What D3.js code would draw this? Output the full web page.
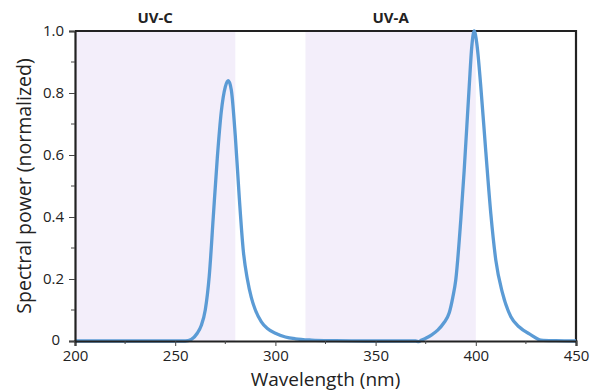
<!DOCTYPE html>
<html>
<head>
<meta charset="utf-8">
<script src="https://cdn.jsdelivr.net/npm/d3@7"></script>
<style>
  html, body { margin: 0; padding: 0; background: #fff; }
  svg { display: block; }
  text { font-family: "Open Sans", "Noto Sans", sans-serif; fill: #222; }
</style>
</head>
<body>
<svg id="chart" width="600" height="391"></svg>
<script>
// ---- data ----
const wavelengths = [200, 230, 255, 258, 261, 263, 265, 267, 269, 271, 273, 275, 276.5, 278, 280, 282, 284, 286, 288, 290, 293, 296, 300, 305, 310, 318, 330, 345, 360, 370, 371.5, 373, 375, 378, 381, 384, 386.7, 388.5, 390, 392.5, 394.2, 396.7, 398, 399.2, 400.5, 402.5, 405, 407.5, 410, 413.3, 417.5, 421.7, 427.5, 432.5, 440, 450];
const power = [0, 0, 0, 0.005, 0.025, 0.05, 0.10, 0.21, 0.40, 0.59, 0.74, 0.82, 0.84, 0.81, 0.66, 0.46, 0.29, 0.20, 0.14, 0.10, 0.062, 0.040, 0.025, 0.013, 0.007, 0.003, 0.001, 0, 0, 0, -0.002, 0.003, 0.009, 0.02, 0.035, 0.058, 0.09, 0.14, 0.197, 0.39, 0.55, 0.82, 0.95, 1.0, 0.96, 0.82, 0.61, 0.41, 0.26, 0.155, 0.078, 0.045, 0.02, 0.003, 0.001, 0];
const bands = [
  { name: "UV-C", from: 200, to: 280 },
  { name: "UV-A", from: 315, to: 400 }
];
const xTicks = [200, 250, 300, 350, 400, 450];
const xMinorTicks = [225, 275, 325, 375, 425];
const yTicks = [0, 0.2, 0.4, 0.6, 0.8, 1.0];
const yTickLabels = ["0", "0.2", "0.4", "0.6", "0.8", "1.0"];
const yMinorTicks = [0.1, 0.3, 0.5, 0.7, 0.9];

// ---- layout ----
const margin = { left: 75, right: 24, top: 31, bottom: 50 };
const W = 600, H = 391;
const svg = d3.select("#chart");
const x = d3.scaleLinear().domain([200, 450]).range([margin.left, W - margin.right]);
const y = d3.scaleLinear().domain([0, 1]).range([H - margin.bottom, margin.top]);

// bands
svg.append("g").selectAll("rect").data(bands).join("rect")
  .attr("x", d => x(d.from)).attr("width", d => x(d.to) - x(d.from))
  .attr("y", y(1)).attr("height", y(0) - y(1))
  .attr("fill", "#f3eefa");

svg.append("g").selectAll("text").data(bands).join("text")
  .attr("x", d => x((d.from + d.to) / 2)).attr("y", 23)
  .attr("text-anchor", "middle")
  .style("font-size", "15px").style("font-weight", "bold")
  .text(d => d.name);

// frame top/right
svg.append("path")
  .attr("d", `M${x(200)},${y(1)}H${x(450)}V${y(0)}`)
  .attr("fill", "none").attr("stroke", "#222").attr("stroke-width", 2.2);

// line
const line = d3.line().x((d, i) => x(wavelengths[i])).y(d => y(d)).curve(d3.curveMonotoneX);
svg.append("path").datum(power)
  .attr("d", line)
  .attr("fill", "none").attr("stroke", "#5b9bd5").attr("stroke-width", 3.3)
  .attr("stroke-linejoin", "round");

// axes
const xAxis = d3.axisBottom(x).tickValues(xTicks).tickSize(5).tickPadding(4).tickFormat(d3.format("d"));
const gx = svg.append("g").attr("transform", `translate(0,${y(0)})`).call(xAxis);
gx.select(".domain").attr("stroke", "#222").attr("stroke-width", 2.2);
gx.selectAll(".tick line").attr("stroke", "#444").attr("stroke-width", 1);
gx.selectAll("text").style("font-size", "15px").style("font-family", '"Open Sans", sans-serif');
gx.selectAll(".minor").data(xMinorTicks).join("line")
  .attr("class", "minor").attr("x1", d => x(d)).attr("x2", d => x(d))
  .attr("y1", 0).attr("y2", 3).attr("stroke", "#444");

const yAxis = d3.axisLeft(y).tickValues(yTicks).tickSize(6).tickPadding(5)
  .tickFormat((d, i) => yTickLabels[i]);
const gy = svg.append("g").attr("transform", `translate(${x(200)},0)`).call(yAxis);
gy.select(".domain").attr("stroke", "#222").attr("stroke-width", 2.2);
gy.selectAll(".tick line").attr("stroke", "#444").attr("stroke-width", 1);
gy.selectAll("text").style("font-size", "15px").style("font-family", '"Open Sans", sans-serif');
// nudge the "0" label so it does not collide with the "200" label
gy.selectAll(".tick text").filter(d => d === 0).attr("dx", -4).attr("dy", "0.2em");
gy.selectAll(".minor").data(yMinorTicks).join("line")
  .attr("class", "minor").attr("y1", d => y(d)).attr("y2", d => y(d))
  .attr("x1", 0).attr("x2", -4).attr("stroke", "#444");

// axis titles
svg.append("text")
  .attr("x", x(325)).attr("y", 386)
  .attr("text-anchor", "middle")
  .style("font-size", "19px")
  .text("Wavelength (nm)");
svg.append("text")
  .attr("transform", `translate(31,${(y(0) + y(1)) / 2}) rotate(-90)`)
  .attr("text-anchor", "middle")
  .style("font-size", "19.5px")
  .text("Spectral power (normalized)");
</script>
</body>
</html>
